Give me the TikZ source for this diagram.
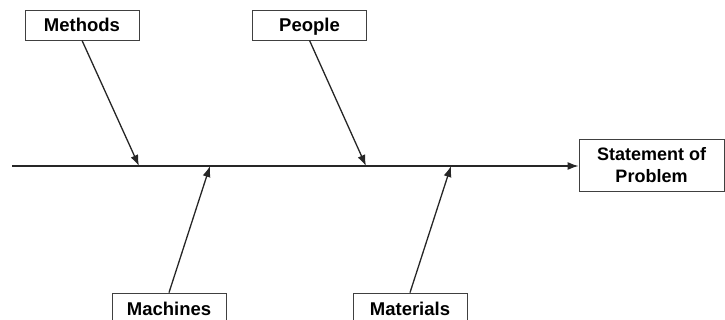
\documentclass[tikz,border=0pt]{standalone}
\usepackage{fontspec}
\setmainfont{Liberation Sans}
\usetikzlibrary{arrows.meta}
\usetikzlibrary{positioning}
\tikzstyle{cause_box} = [
    draw=black!75, 
    fill=white, 
    font=\bfseries\fontsize{18.5}{21}\selectfont, 
    line width=0.8pt, 
    inner sep=0pt, 
    text height=15pt, 
    text depth=1pt, 
    minimum width=114pt, 
    minimum height=30pt
]
\tikzstyle{effect_box} = [
    draw=black!75, 
    fill=white, 
    font=\bfseries\fontsize{18}{21.5}\selectfont, 
    line width=0.8pt, 
    align=center, 
    inner sep=0pt, 
    minimum width=145pt, 
    minimum height=52pt
]
\tikzstyle{bone} = [
    draw=black!85, 
    line width=1.3pt, 
    -{Latex[length=11pt, width=8pt]}
]
\begin{document}
\begin{tikzpicture}[x=1pt, y=-1pt]
\useasboundingbox (0,0) rectangle (725,320);
% causes
\node [cause_box] (methods) at (82,25) {Methods};
\node [cause_box] (people) at (309.5,25) {People};
\node [cause_box] (machines) at (169,308) {Machines};
\node [cause_box] (materials) at (410,308) {Materials};
% effect
\node [effect_box] (problem) at (651.5,165) {Statement of\\Problem};
% spine
\coordinate (tail) at (12,166);
\coordinate (on_methods) at (139,166);
\coordinate (on_machines) at (210,166);
\coordinate (on_people) at (366,166);
\coordinate (on_materials) at (451,166);
\draw [bone] (tail) -- (problem.west |- tail);
\draw [bone] (methods.south) -- (on_methods);
\draw [bone] (people.south) -- (on_people);
\draw [bone] (machines.north) -- (on_machines);
\draw [bone] (materials.north) -- (on_materials);
\end{tikzpicture}
\end{document}
